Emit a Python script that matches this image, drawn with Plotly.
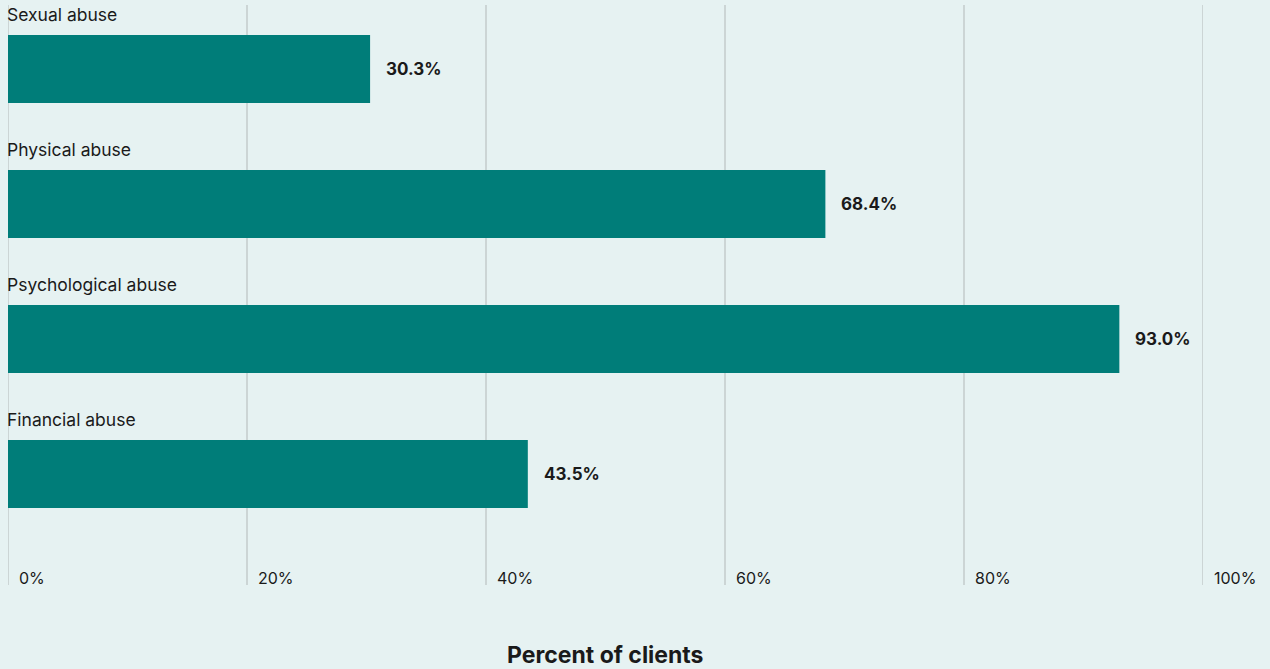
import plotly.graph_objects as go

categories = ["Sexual abuse", "Physical abuse", "Psychological abuse", "Financial abuse"]
values = [30.3, 68.4, 93.0, 43.5]
tick_values = [0, 20, 40, 60, 80, 100]
tick_labels = ["0%", "20%", "40%", "60%", "80%", "100%"]

BG = "#e6f2f2"
BAR = "#007d79"
TEXT = "#1a1a1a"
GRID = "#c3cbcb"
FONT = "Inter, Roboto, sans-serif"

positions = list(range(len(categories)))

fig = go.Figure()
fig.add_trace(go.Bar(
    x=values,
    y=positions,
    orientation="h",
    width=0.504,
    marker=dict(color=BAR, line=dict(width=0)),
    hoverinfo="skip",
))

# vertical gridlines, including both ends of the axis
shapes = [
    dict(type="line", xref="x", yref="paper", x0=v, x1=v, y0=0, y1=1,
         line=dict(color=GRID, width=1.5), layer="below")
    for v in tick_values
]

annotations = []
# category names sit above each bar
for i, c in enumerate(categories):
    annotations.append(dict(
        x=0, y=i - 0.407, xref="x", yref="y", text=c, showarrow=False,
        xanchor="left", yanchor="middle", xshift=-3,
        font=dict(family=FONT, size=17.5, color=TEXT),
    ))
# value labels just past the end of each bar
for i, v in enumerate(values):
    annotations.append(dict(
        x=v, y=i, xref="x", yref="y", text=f"<b>{v:.1f}%</b>", showarrow=False,
        xanchor="left", yanchor="middle", xshift=14,
        font=dict(family=FONT, size=17, color=TEXT),
    ))
# percentage tick labels to the right of each gridline
for v, t in zip(tick_values, tick_labels):
    annotations.append(dict(
        x=v, y=0.012, xref="x", yref="paper", text=t, showarrow=False,
        xanchor="left", yanchor="middle", xshift=9,
        font=dict(family=FONT, size=16, color=TEXT),
    ))
annotations.append(dict(
    x=0.5, y=-0.121, xref="paper", yref="paper", text="<b>Percent of clients</b>",
    showarrow=False, xanchor="center", yanchor="middle",
    font=dict(family=FONT, size=23, color=TEXT),
))

fig.update_layout(
    width=1270, height=669,
    margin=dict(l=8, r=67, t=5, b=84),
    paper_bgcolor=BG, plot_bgcolor=BG,
    showlegend=False,
    shapes=shapes,
    annotations=annotations,
    xaxis=dict(
        range=[0, 100], showticklabels=False, showgrid=False,
        zeroline=False, showline=False, fixedrange=True,
    ),
    yaxis=dict(
        range=[3.822, -0.474], showticklabels=False, showgrid=False,
        zeroline=False, showline=False, fixedrange=True,
    ),
)

fig.write_html("out.html")
